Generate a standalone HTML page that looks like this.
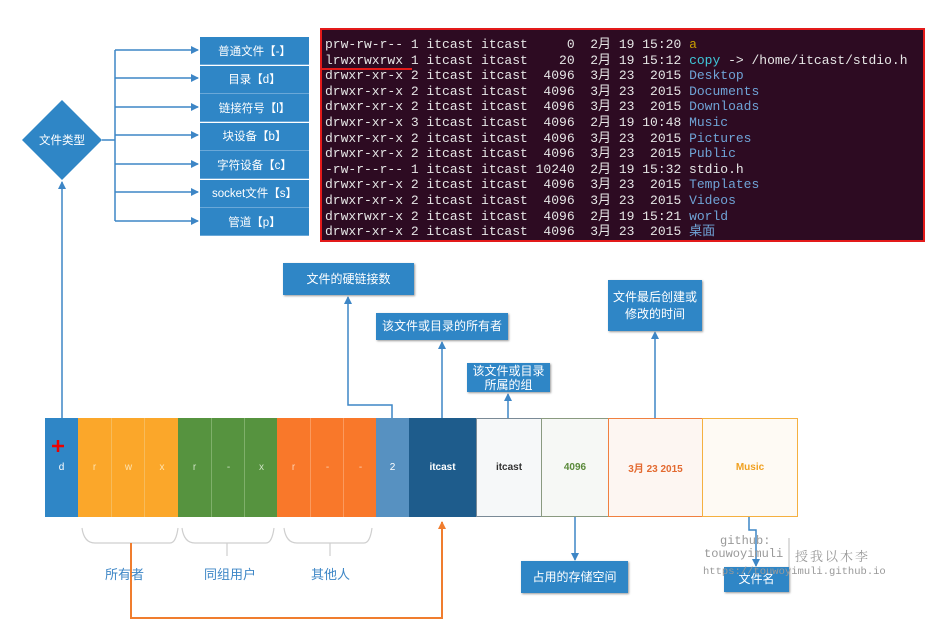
<!DOCTYPE html>
<html><head><meta charset="utf-8"><style>
body{margin:0;width:933px;height:628px;background:#fff;position:relative;overflow:hidden;font-family:"Liberation Sans","Noto Sans CJK SC",sans-serif}
.a{position:absolute}
.bx{position:absolute;background:#2f86c6;color:#fff;font-size:12px;display:flex;align-items:center;justify-content:center;text-align:center;line-height:17px;box-shadow:1px 1px 2px #999}
.lb{position:absolute;left:200px;width:109px;height:27px;background:#2f86c6;color:#fff;font-size:11.5px;display:flex;align-items:center;justify-content:center;border-bottom:1.5px solid #6aa8d8}
.term{position:absolute;left:320px;top:28px;width:598px;height:203px;border:2px solid #e31a1a;background:#2d0b22;overflow:hidden;font-family:"Liberation Mono","Noto Sans CJK SC",monospace;font-size:13px;color:#e6e6e6;line-height:15.6px;white-space:pre;padding-left:3px;padding-top:7px;box-sizing:content-box}
.b{color:#6fa3d6}
.seg{position:absolute;top:418px;height:99px;display:flex;align-items:center;justify-content:center;font-size:10px;color:#fff}
</style></head><body>
<svg class="a" style="left:0;top:0" width="933" height="628">
<defs><marker id="ar" markerWidth="8" markerHeight="8" refX="7" refY="4" orient="auto" markerUnits="userSpaceOnUse"><path d="M0,0 L8,4 L0,8z" fill="#3d86c6"/></marker>
<marker id="ao" markerWidth="8" markerHeight="8" refX="7" refY="4" orient="auto" markerUnits="userSpaceOnUse"><path d="M0,0 L8,4 L0,8z" fill="#f07d2e"/></marker></defs>
<g stroke="#3d86c6" stroke-width="1.5" fill="none">
<polygon points="62,100 102,140 62,180 22,140" fill="#2f86c6" stroke="none"/>
<path d="M102,140 H115 M115,50 V221"/>
<path d="M115,50 H198" marker-end="url(#ar)"/><path d="M115,78 H198" marker-end="url(#ar)"/><path d="M115,107 H198" marker-end="url(#ar)"/><path d="M115,135 H198" marker-end="url(#ar)"/><path d="M115,164 H198" marker-end="url(#ar)"/><path d="M115,192 H198" marker-end="url(#ar)"/><path d="M115,221 H198" marker-end="url(#ar)"/>
<path d="M62,418 V182" marker-end="url(#ar)"/>
<path d="M392,418 V405 H348 V297" marker-end="url(#ar)"/>
<path d="M442,418 V342" marker-end="url(#ar)"/>
<path d="M508,418 V394" marker-end="url(#ar)"/>
<path d="M655,418 V332" marker-end="url(#ar)"/>
<path d="M575,517 V560" marker-end="url(#ar)"/>
<path d="M749,517 V530 H756 V566" marker-end="url(#ar)"/>
</g>
<g stroke="#cfcfcf" stroke-width="1.2" fill="none">
<path d="M82,528 Q84,543 95,543 H170 Q176,543 178,528 M131,543 V556"/>
<path d="M182,528 Q184,543 195,543 H266 Q272,543 274,528 M227,543 V556"/>
<path d="M284,528 Q286,543 297,543 H364 Q370,543 372,528 M330,543 V556"/>
</g>
<path d="M131,543 V618 H442 V522" stroke="#f07d2e" stroke-width="2" fill="none" marker-end="url(#ao)"/>
<line x1="789" y1="538" x2="789" y2="568" stroke="#bbb"/>
</svg>
<div class="a" style="left:22px;top:132px;width:80px;text-align:center;color:#fff;font-size:11.5px">文件类型</div>
<div class="lb" style="top:37px">普通文件【-】</div>
<div class="lb" style="top:65.5px">目录【d】</div>
<div class="lb" style="top:94px">链接符号【l】</div>
<div class="lb" style="top:122.5px">块设备【b】</div>
<div class="lb" style="top:151px">字符设备【c】</div>
<div class="lb" style="top:179.5px">socket文件【s】</div>
<div class="lb" style="top:208px">管道【p】</div>
<div class="term">prw-rw-r-- 1 itcast itcast     0  2月 19 15:20 <span style="color:#c9a000">a</span>
lrwxrwxrwx 1 itcast itcast    20  2月 19 15:12 <span style="color:#3fc6d8">copy</span> -> /home/itcast/stdio.h
drwxr-xr-x 2 itcast itcast  4096  3月 23  2015 <span class="b">Desktop</span>
drwxr-xr-x 2 itcast itcast  4096  3月 23  2015 <span class="b">Documents</span>
drwxr-xr-x 2 itcast itcast  4096  3月 23  2015 <span class="b">Downloads</span>
drwxr-xr-x 3 itcast itcast  4096  2月 19 10:48 <span class="b">Music</span>
drwxr-xr-x 2 itcast itcast  4096  3月 23  2015 <span class="b">Pictures</span>
drwxr-xr-x 2 itcast itcast  4096  3月 23  2015 <span class="b">Public</span>
-rw-r--r-- 1 itcast itcast 10240  2月 19 15:32 stdio.h
drwxr-xr-x 2 itcast itcast  4096  3月 23  2015 <span class="b">Templates</span>
drwxr-xr-x 2 itcast itcast  4096  3月 23  2015 <span class="b">Videos</span>
drwxrwxr-x 2 itcast itcast  4096  2月 19 15:21 <span class="b">world</span>
drwxr-xr-x 2 itcast itcast  4096  3月 23  2015 <span class="b">桌面</span></div>
<div class="a" style="left:322px;top:68px;width:90px;height:2px;background:#e31a1a"></div>
<div class="seg" style="left:45px;width:33px;background:#2f86c6">d</div>
<div class="seg" style="left:78px;width:33px;background:#fba72a;color:#fde3b0">r</div>
<div class="seg" style="left:111px;width:33px;background:#fba72a;color:#fde3b0;border-left:1px solid #f7bb5a">w</div>
<div class="seg" style="left:144px;width:34px;background:#fba72a;color:#fde3b0;border-left:1px solid #f7bb5a">x</div>
<div class="seg" style="left:178px;width:33px;background:#56933f;color:#cfe3c5">r</div>
<div class="seg" style="left:211px;width:33px;background:#56933f;color:#cfe3c5;border-left:1px solid #7fb06a">-</div>
<div class="seg" style="left:244px;width:33px;background:#56933f;color:#cfe3c5;border-left:1px solid #7fb06a">x</div>
<div class="seg" style="left:277px;width:33px;background:#f9782a;color:#fdd2b4">r</div>
<div class="seg" style="left:310px;width:33px;background:#f9782a;color:#fdd2b4;border-left:1px solid #fb9a5e">-</div>
<div class="seg" style="left:343px;width:33px;background:#f9782a;color:#fdd2b4;border-left:1px solid #fb9a5e">-</div>
<div class="seg" style="left:376px;width:33px;background:#5791c1">2</div>
<div class="seg" style="left:409px;width:67px;background:#1e5c8c;font-weight:bold">itcast</div>
<div class="seg" style="left:476px;width:64px;height:97px;border:1px solid #7a8a96;background:#f6f8f9;color:#333;font-weight:bold">itcast</div>
<div class="seg" style="left:541px;width:66px;height:97px;border:1px solid #8a9a80;background:#f6f8f5;color:#5a8a3a;font-weight:bold">4096</div>
<div class="seg" style="left:608px;width:93px;height:97px;border:1px solid #f08040;background:#fdf6f2;color:#e36a30;font-weight:bold">3月 23 2015</div>
<div class="seg" style="left:702px;width:94px;height:97px;border:1px solid #f5b040;background:#fefaf4;color:#f0a020;font-weight:bold">Music</div>
<svg class="a" style="left:50px;top:438px" width="16" height="16"><path d="M2,8 H14 M8,2 V14" stroke="#e00" stroke-width="2.5"/></svg>
<div class="bx" style="left:283px;top:263px;width:131px;height:32px">文件的硬链接数</div>
<div class="bx" style="left:376px;top:313px;width:132px;height:27px">该文件或目录的所有者</div>
<div class="bx" style="left:467px;top:363px;width:83px;height:29px;line-height:14px">该文件或目录<br>所属的组</div>
<div class="bx" style="left:608px;top:280px;width:94px;height:51px">文件最后创建或<br>修改的时间</div>
<div class="bx" style="left:521px;top:561px;width:107px;height:32px">占用的存储空间</div>
<div class="bx" style="left:724px;top:567px;width:65px;height:25px">文件名</div>
<div class="a" style="left:105px;top:564px;font-size:13px;color:#3d86c6">所有者</div>
<div class="a" style="left:204px;top:564px;font-size:13px;color:#3d86c6">同组用户</div>
<div class="a" style="left:311px;top:564px;font-size:13px;color:#3d86c6">其他人</div>
<div class="a" style="left:720px;top:534px;font-family:'Liberation Mono',monospace;font-size:12px;color:#999">github:</div>
<div class="a" style="left:704px;top:547px;font-family:'Liberation Mono',monospace;font-size:12px;color:#999">touwoyimuli</div>
<div class="a" style="left:795px;top:546px;font-family:'Noto Serif CJK SC',serif;font-size:13px;color:#999;letter-spacing:2px">授我以木李</div>
<div class="a" style="left:703px;top:566px;font-family:'Liberation Mono',monospace;font-size:10.5px;color:#999">https://touwoyimuli.github.io</div>
</body></html>
